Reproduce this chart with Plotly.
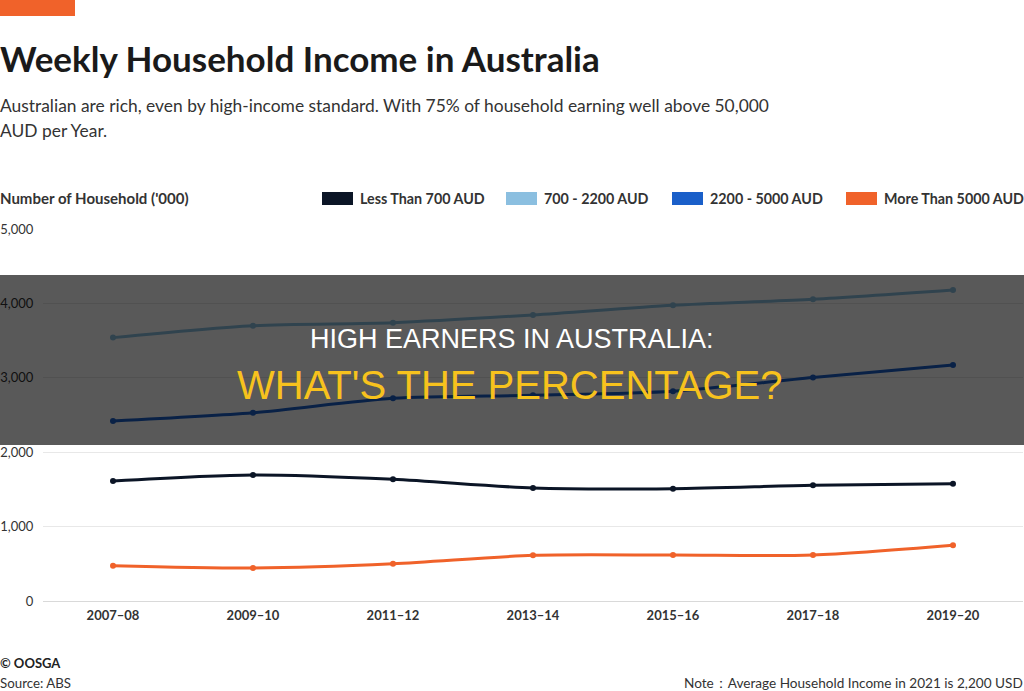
import plotly.graph_objects as go

W, H = 1024, 691
ML, MR, MT, MB = 43, 1, 229, 90
PW, PH = W - ML - MR, H - MT - MB

def px(x):
    return (x - ML) / PW

def py(y):
    return (H - MB - y) / PH

years = ["2007–08", "2009–10", "2011–12", "2013–14", "2015–16", "2017–18", "2019–20"]
less_700 = [1613, 1694, 1635, 1519, 1510, 1555, 1577]
aud_700_2200 = [3540, 3700, 3740, 3845, 3975, 4055, 4180]
aud_2200_5000 = [2420, 2530, 2725, 2765, 2820, 3005, 3172]
more_5000 = [475, 444, 501, 614, 618, 618, 749]

series_names = ["Less Than 700 AUD", "700 - 2200 AUD", "2200 - 5000 AUD", "More Than 5000 AUD"]
series_values = [less_700, aud_700_2200, aud_2200_5000, more_5000]
series_colors = ["#0b1526", "#8bbfe0", "#1a5fc9", "#f0622a"]

y_ticks = [0, 1000, 2000, 3000, 4000, 5000]
y_ticklabels = ["0", "1,000", "2,000", "3,000", "4,000", "5,000"]

fig = go.Figure()
for i in [1, 2, 0, 3]:
    fig.add_trace(go.Scatter(
        x=years, y=series_values[i], name=series_names[i],
        mode="lines+markers",
        line=dict(color=series_colors[i], width=3, shape="spline", smoothing=0.8),
        marker=dict(color=series_colors[i], size=6),
        showlegend=False,
    ))

shapes = []
annotations = []

def text(t, x, y, size, color="#333333", anchor="left", family="Lato"):
    annotations.append(dict(text=t, xref="paper", yref="paper", x=px(x), y=py(y),
                            xanchor=anchor, yanchor="middle", showarrow=False,
                            font=dict(family=family, size=size, color=color)))

# orange accent bar at top
shapes.append(dict(type="rect", xref="paper", yref="paper",
                   x0=px(0), x1=px(75), y0=py(16), y1=py(0),
                   fillcolor="#f0622a", line=dict(width=0), layer="above"))

# title & subtitle
text("<b>Weekly Household Income in Australia</b>", -2, 58, 35, "#1a1a1a")
text("Australian are rich, even by high-income standard. With 75% of household earning well above 50,000",
     -2, 105, 17.4)
text("AUD per Year.", -2, 130, 17.4)

# axis label
text("<b>Number of Household ('000)</b>", -2, 198, 15)

# custom legend
legend_x = [322, 506, 672, 846]
for lx, name, col in zip(legend_x, series_names, series_colors):
    shapes.append(dict(type="rect", xref="paper", yref="paper",
                       x0=px(lx), x1=px(lx + 31), y0=py(205), y1=py(192),
                       fillcolor=col, line=dict(width=0)))
    text("<b>" + name + "</b>", lx + 36, 198.5, 14.3)

# footer
text("<b>© OOSGA</b>", -2, 663, 13, "#222222")
text("Source: ABS", -2, 683, 13.3)
text("Note：Average Household Income in 2021 is 2,200 USD", 1025, 683, 13.6, anchor="right")

# dark overlay band
shapes.append(dict(type="rect", xref="paper", yref="paper",
                   x0=px(0), x1=px(1024), y0=py(445), y1=py(275),
                   fillcolor="rgba(0,0,0,0.65)", line=dict(width=0), layer="above"))
text("HIGH EARNERS IN AUSTRALIA:", 512, 339, 27, "#ffffff", anchor="center", family="Liberation Sans")
text("WHAT'S THE PERCENTAGE?", 510, 385, 40, "#f7c21d", anchor="center", family="Liberation Sans")

fig.update_layout(
    width=W, height=H,
    margin=dict(l=ML, r=MR, t=MT, b=MB, pad=0),
    paper_bgcolor="white", plot_bgcolor="white",
    shapes=shapes, annotations=annotations,
    showlegend=False,
    xaxis=dict(type="category", range=[-0.5, 6.5], autorange=False,
               showgrid=False, zeroline=False, showline=False,
               ticks="outside", ticklen=2, tickcolor="rgba(0,0,0,0)",
               tickfont=dict(family="Lato", size=13, color="#333333"),
               tickvals=years, ticktext=["<b>" + y + "</b>" for y in years]),
    yaxis=dict(range=[0, 5000], autorange=False, tickvals=y_ticks, ticktext=y_ticklabels,
               showgrid=True, gridcolor="#e8e8e8", gridwidth=1,
               zeroline=True, zerolinecolor="#d9d9d9", zerolinewidth=1,
               showline=False, ticks="outside", ticklen=6, tickcolor="rgba(0,0,0,0)",
               tickfont=dict(family="Lato", size=13, color="#333333")),
)

fig.write_html("out.html")
